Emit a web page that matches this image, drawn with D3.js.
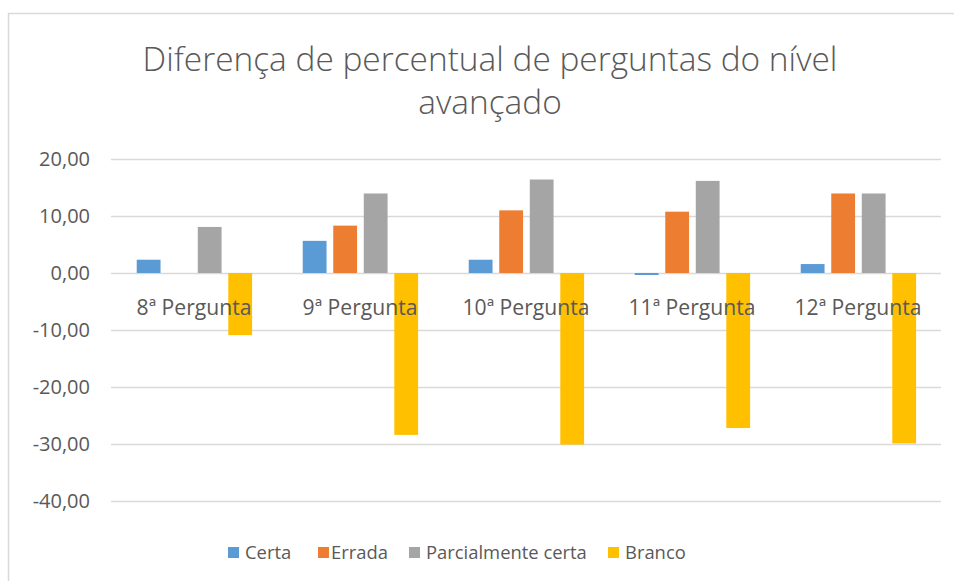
<!DOCTYPE html>
<html>
<head>
<meta charset="utf-8">
<script src="https://cdn.jsdelivr.net/npm/d3@7"></script>
<style>
  html, body { margin: 0; padding: 0; background: #fff; }
  svg { display: block; font-family: "Open Sans", sans-serif; }
</style>
</head>
<body>
<svg id="chart" width="954" height="581"></svg>
<script>
// Categories and series
const categories = ["8ª Pergunta", "9ª Pergunta", "10ª Pergunta", "11ª Pergunta", "12ª Pergunta"];
const seriesNames = ["Certa", "Errada", "Parcialmente certa", "Branco"];
const certa = [2.33, 5.64, 2.33, -0.35, 1.57];
const errada = [0, 8.31, 10.99, 10.76, 13.95];
const parcial = [8.08, 13.95, 16.40, 16.16, 13.95];
const branco = [-10.90, -28.40, -30.10, -27.20, -29.90];
const yTicks = [20, 10, 0, -10, -20, -30, -40];
const colors = ["#5B9BD5", "#ED7D31", "#A5A5A5", "#FFC000"];

const seriesValues = [certa, errada, parcial, branco];
const rows = categories.map((c, i) => ({
  category: c,
  values: seriesNames.map((s, k) => ({ series: s, value: seriesValues[k][i] }))
}));

const svg = d3.select("#chart");
const plot = { left: 111, right: 941, top: 159, bottom: 501 };

// Chart frame
svg.append("rect")
  .attr("x", 8.5).attr("y", 13.5)
  .attr("width", 1000).attr("height", 1000)
  .attr("fill", "#fff").attr("stroke", "#D9D9D9").attr("stroke-width", 1.5);

// Title
const title = svg.append("text")
  .attr("text-anchor", "middle").attr("fill", "#595959")
  .attr("font-weight", 300).attr("font-size", 28);
const t1 = title.append("tspan").attr("x", 490).attr("y", 71)
  .text("Diferença de percentual de perguntas do nível");
title.append("tspan").attr("x", 490).attr("y", 114).text("avançado");
{
  const w = t1.node().getComputedTextLength();
  title.attr("font-size", 28 * 695 / w);
}

// Scales
const y = d3.scaleLinear().domain([-40, 20]).range([plot.bottom, plot.top]);
const x0 = d3.scaleBand().domain(categories).range([plot.left, plot.right]).padding(0);
const bw = x0.bandwidth();
const x1 = d3.scaleBand().domain(seriesNames)
  .range([bw * 0.155, bw * 0.85]).paddingInner(0.22).paddingOuter(0);

// Gridlines
svg.append("g")
  .selectAll("line").data(yTicks).join("line")
  .attr("x1", plot.left).attr("x2", plot.right)
  .attr("y1", d => Math.round(y(d)) + 0.5).attr("y2", d => Math.round(y(d)) + 0.5)
  .attr("stroke", "#D9D9D9").attr("stroke-width", 1.3);

// Y axis labels
const yAxis = d3.axisLeft(y).tickValues(yTicks)
  .tickFormat(d => d3.format(".2f")(d).replace(".", ",").replace("−", "-"))
  .tickSize(0).tickPadding(0);
const ya = svg.append("g").attr("transform", `translate(${plot.left - 21},0)`).call(yAxis);
ya.select(".domain").remove();
ya.selectAll("text")
  .attr("font-family", "Open Sans, sans-serif")
  .attr("font-size", 20).attr("fill", "#595959").attr("dy", "0.34em");

// Bars
const groups = svg.append("g").selectAll("g").data(rows).join("g")
  .attr("transform", d => `translate(${x0(d.category)},0)`);
groups.selectAll("rect").data(d => d.values).join("rect")
  .attr("x", d => x1(d.series))
  .attr("width", x1.bandwidth())
  .attr("y", d => y(Math.max(0, d.value)))
  .attr("height", d => Math.abs(y(d.value) - y(0)))
  .attr("fill", (d, i) => colors[i]);

// Category labels, drawn on top of the bars
const xAxis = d3.axisBottom(x0).tickSize(0).tickPadding(0);
const xa = svg.append("g").attr("transform", `translate(0,${y(0)})`).call(xAxis);
xa.select(".domain").remove();
const catText = xa.selectAll("text")
  .attr("font-family", "Open Sans, sans-serif")
  .attr("font-size", 18.5).attr("fill", "#595959")
  .attr("y", 0).attr("dy", "2.0em");
{
  const w = catText.nodes()[0].getComputedTextLength();
  catText.attr("font-size", 18.5 * 115 / w);
}

// Legend
const legendX = [228, 318, 409, 608];
const legendTextX = [245, 331, 426, 625];
const legend = svg.append("g").selectAll("g").data(seriesNames).join("g");
legend.append("rect")
  .attr("x", (d, i) => legendX[i]).attr("y", 547)
  .attr("width", 11).attr("height", 11)
  .attr("fill", (d, i) => colors[i]);
const legText = legend.append("text")
  .attr("x", (d, i) => legendTextX[i]).attr("y", 552.5).attr("dy", "0.36em")
  .attr("font-size", 17.5).attr("fill", "#595959").text(d => d);
{
  const w = legText.nodes()[2].getComputedTextLength();
  legText.attr("font-size", 17.5 * 161 / w);
}
</script>
</body>
</html>
